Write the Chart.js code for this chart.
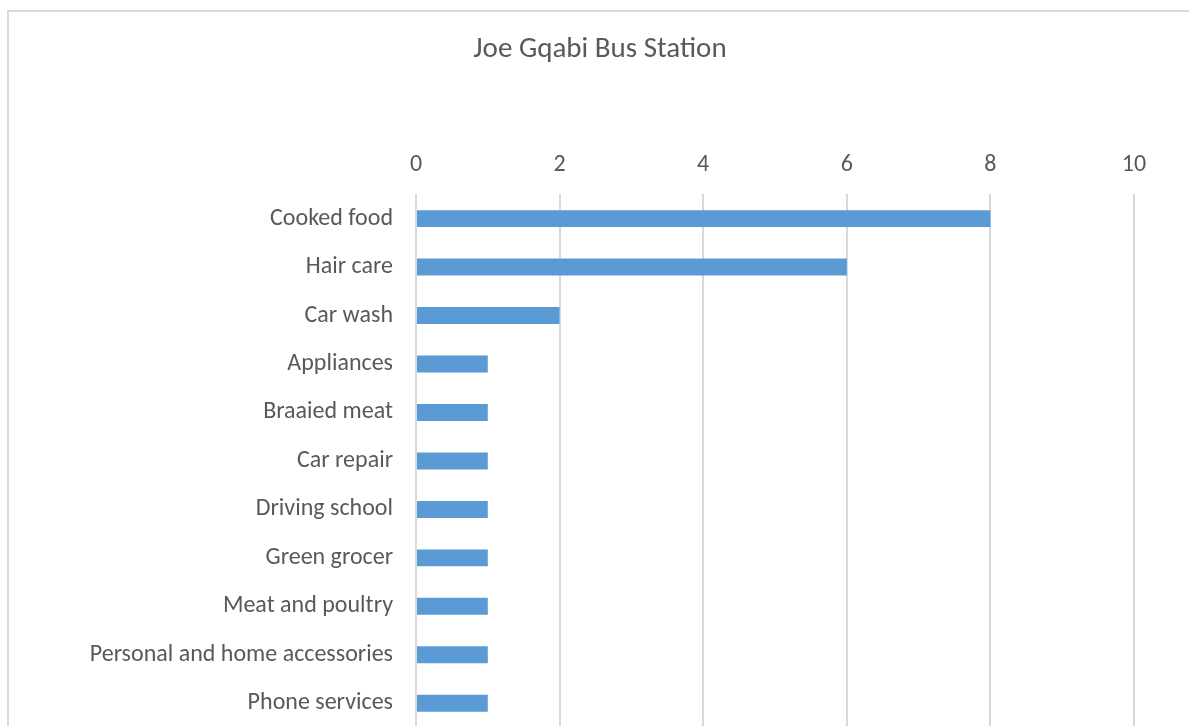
<!DOCTYPE html>
<html>
<head>
<meta charset="utf-8">
<script src="https://cdn.jsdelivr.net/npm/chart.js@4/dist/chart.umd.min.js"></script>
<style>
  html, body { margin: 0; padding: 0; background: #fff; overflow: hidden; }
  #frame {
    position: absolute; left: 7px; top: 10px; width: 1190px; height: 740px;
    border-left: 2px solid #d9d9d9; border-top: 2px solid #d9d9d9;
    box-sizing: border-box;
  }
  #wrap { position: absolute; left: 0; top: 0; width: 1189px; height: 740px; }
</style>
</head>
<body>
<div id="frame"></div>
<div id="wrap"><canvas id="chart"></canvas></div>
<script>
const categories = [
  'Cooked food', 'Hair care', 'Car wash', 'Appliances', 'Braaied meat',
  'Car repair', 'Driving school', 'Green grocer', 'Meat and poultry',
  'Personal and home accessories', 'Phone services'
];
const counts = [8, 6, 2, 1, 1, 1, 1, 1, 1, 1, 1];
const xTicks = [0, 2, 4, 6, 8, 10];

const textColor = '#595959';
const fontFamily = "Carlito, 'Open Sans', 'Liberation Sans', sans-serif";

new Chart(document.getElementById('chart'), {
  type: 'bar',
  data: {
    labels: categories,
    datasets: [{
      data: counts,
      backgroundColor: '#5b9bd5',
      barPercentage: 0.35,
      categoryPercentage: 1.0
    }]
  },
  options: {
    indexAxis: 'y',
    responsive: true,
    maintainAspectRatio: false,
    animation: false,
    layout: { padding: { left: 66, right: 55, top: 0, bottom: 12.5 } },
    plugins: {
      legend: { display: false },
      tooltip: { enabled: false },
      title: {
        display: true,
        text: 'Joe Gqabi Bus Station',
        color: textColor,
        font: { family: fontFamily, size: 29, weight: 'normal', lineHeight: 1.2 },
        padding: { top: 32.6, bottom: 20 }
      }
    },
    scales: {
      x: {
        position: 'top',
        min: 0,
        max: 10,
        afterBuildTicks: axis => { axis.ticks = xTicks.map(v => ({ value: v })); },
        afterFit: axis => {
          axis.height = 107;
          axis.paddingLeft = 0;
          axis.paddingRight = 0;
        },
        grid: { color: '#d9d9d9', lineWidth: 2, drawTicks: false },
        border: { display: false },
        ticks: {
          color: textColor,
          padding: 14.6,
          font: { family: fontFamily, size: 24 }
        }
      },
      y: {
        afterFit: axis => {
          axis.width = 350;
          axis.paddingTop = 0;
          axis.paddingBottom = 0;
        },
        grid: { display: false, drawTicks: false },
        border: { display: false },
        ticks: {
          color: textColor,
          padding: 23,
          font: { family: fontFamily, size: 24 }
        }
      }
    }
  }
});
</script>
</body>
</html>
